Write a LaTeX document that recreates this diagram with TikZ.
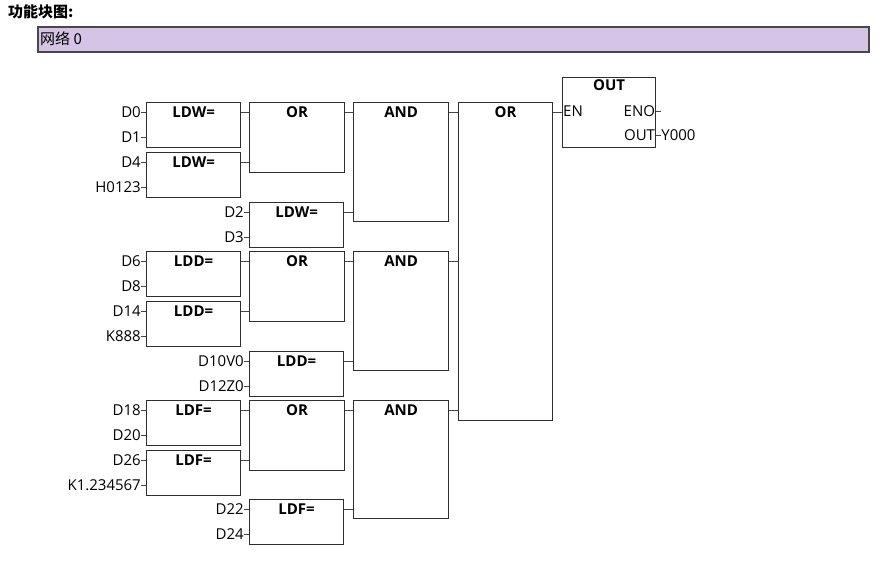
\documentclass[tikz,border=0pt]{standalone}
\usepackage{fontspec}
\setmainfont{Open Sans}
\newfontfamily\cjk{Noto Sans CJK SC}
\definecolor{boxc}{HTML}{2E2E2E}
\definecolor{wirec}{HTML}{444444}
\definecolor{barfill}{HTML}{D5C4E6}
\definecolor{barline}{HTML}{484848}
\newcommand\cmpblk[6]{%
  \node[fb] (#1) at (#2,#3) {};
  \node[ttl] (#1t) at ([yshift=-10pt]#1.north) {#4};
  \node[lab,anchor=east] (#1a) at ([xshift=-5pt,yshift=-10pt]#1.north west) {#5};
  \node[lab,anchor=east] (#1b) at ([xshift=-5pt,yshift=-35pt]#1.north west) {#6};
  \draw[wire] (#1a.east) -- (#1a.east -| #1.west);
  \draw[wire] (#1b.east) -- (#1b.east -| #1.west);
}
\begin{document}
\begin{tikzpicture}[x=1pt,y=-1pt,
  fb/.style={draw=boxc,line width=1.2pt,fill=white,rectangle,inner sep=0pt,
    anchor=north west,minimum width=94pt,minimum height=45pt},
  ttl/.style={font=\bfseries\fontsize{15}{15}\selectfont,inner sep=0pt},
  lab/.style={font=\fontsize{15}{15}\selectfont,inner sep=0pt},
  wire/.style={draw=wirec,line width=0.9pt}]
\useasboundingbox (0,0) rectangle (889,571);
% header
\node[inner sep=0pt,anchor=west,font=\cjk\bfseries\fontsize{15}{15}\selectfont] (hdr) at (8,12) {功能块图:};
\node[draw=barline,line width=2.2pt,fill=barfill,rectangle,inner sep=0pt,anchor=north west,
  minimum width=831pt,minimum height=25pt] (bar) at (37,25.5) {};
\node[inner sep=0pt,anchor=west,font=\cjk\fontsize{15}{15}\selectfont] (net) at ([xshift=3pt]bar.west) {网络 0};
% big OR and OUT
\node[fb,minimum height=318pt] (bor) at (458,102) {};
\node[ttl] (bort) at ([yshift=-10pt]bor.north) {OR};
\node[fb,minimum width=93pt,minimum height=70pt] (out) at (562,77) {};
\node[ttl] (outt) at ([yshift=-8.5pt]out.north) {OUT};
\coordinate (enp) at ([yshift=-34.5pt]out.north west);
\coordinate (outp) at ([yshift=-58pt]out.north west);
\node[lab,anchor=west] (en) at ([xshift=1pt]enp) {EN};
\node[lab,anchor=east] (eno) at ([xshift=-1pt]enp -| out.east) {ENO};
\coordinate (enoend) at ([xshift=5pt]enp -| out.east);
\draw[wire] (enp -| out.east) -- (enoend);
\node[lab,anchor=east] (outl) at ([xshift=-1pt]outp -| out.east) {OUT};
\node[lab,anchor=west] (y0) at ([xshift=5pt]outp -| out.east) {Y000};
\draw[wire] (outp -| out.east) -- (y0.west);
\coordinate (borp) at ([yshift=-10pt]bor.north east);
\draw[wire] (borp) -- (borp -| out.west);
% group 1
\cmpblk{a1}{146}{102}{LDW=}{D0}{D1}
\cmpblk{a2}{146}{152}{LDW=}{D4}{H0123}
\cmpblk{a3}{249}{202}{LDW=}{D2}{D3}
\node[fb,minimum width=95pt,minimum height=70pt] (o1) at (249,102) {};
\node[ttl] (o1t) at ([yshift=-10pt]o1.north) {OR};
\node[fb,minimum width=95pt,minimum height=119pt] (n1) at (353,102) {};
\node[ttl] (n1t) at ([yshift=-10pt]n1.north) {AND};
\draw[wire] (a1a.east -| a1.east) -- (a1a.east -| o1.west);
\draw[wire] (a2a.east -| a2.east) -- (a2a.east -| o1.west);
\draw[wire] (a3a.east -| a3.east) -- (a3a.east -| n1.west);
\coordinate (o1p) at ([yshift=-10pt]o1.north east);
\draw[wire] (o1p) -- (o1p -| n1.west);
\coordinate (n1p) at ([yshift=-10pt]n1.north east);
\draw[wire] (n1p) -- (n1p -| bor.west);
% group 2
\cmpblk{b1}{146}{251}{LDD=}{D6}{D8}
\cmpblk{b2}{146}{301}{LDD=}{D14}{K888}
\cmpblk{b3}{249}{351}{LDD=}{D10V0}{D12Z0}
\node[fb,minimum width=95pt,minimum height=70pt] (o2) at (249,251) {};
\node[ttl] (o2t) at ([yshift=-10pt]o2.north) {OR};
\node[fb,minimum width=95pt,minimum height=119pt] (n2) at (353,251) {};
\node[ttl] (n2t) at ([yshift=-10pt]n2.north) {AND};
\draw[wire] (b1a.east -| b1.east) -- (b1a.east -| o2.west);
\draw[wire] (b2a.east -| b2.east) -- (b2a.east -| o2.west);
\draw[wire] (b3a.east -| b3.east) -- (b3a.east -| n2.west);
\coordinate (o2p) at ([yshift=-10pt]o2.north east);
\draw[wire] (o2p) -- (o2p -| n2.west);
\coordinate (n2p) at ([yshift=-10pt]n2.north east);
\draw[wire] (n2p) -- (n2p -| bor.west);
% group 3
\cmpblk{c1}{146}{400}{LDF=}{D18}{D20}
\cmpblk{c2}{146}{450}{LDF=}{D26}{K1.234567}
\cmpblk{c3}{249}{499}{LDF=}{D22}{D24}
\node[fb,minimum width=95pt,minimum height=70pt] (o3) at (249,400) {};
\node[ttl] (o3t) at ([yshift=-10pt]o3.north) {OR};
\node[fb,minimum width=95pt,minimum height=118pt] (n3) at (353,400) {};
\node[ttl] (n3t) at ([yshift=-10pt]n3.north) {AND};
\draw[wire] (c1a.east -| c1.east) -- (c1a.east -| o3.west);
\draw[wire] (c2a.east -| c2.east) -- (c2a.east -| o3.west);
\draw[wire] (c3a.east -| c3.east) -- (c3a.east -| n3.west);
\coordinate (o3p) at ([yshift=-10pt]o3.north east);
\draw[wire] (o3p) -- (o3p -| n3.west);
\coordinate (n3p) at ([yshift=-10pt]n3.north east);
\draw[wire] (n3p) -- (n3p -| bor.west);
\end{tikzpicture}
\end{document}
